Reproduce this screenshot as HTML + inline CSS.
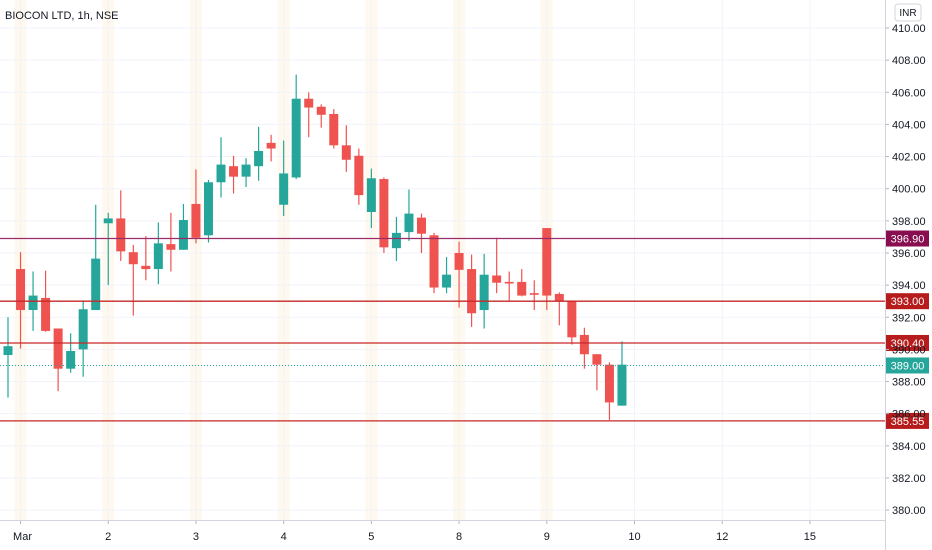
<!DOCTYPE html>
<html><head><meta charset="utf-8"><style>
body{margin:0;background:#fff;font-family:"Liberation Sans",sans-serif;}
svg{display:block}
text{font-family:"Liberation Sans",sans-serif;}
</style></head><body>
<svg id="chart" width="932" height="550" xmlns="http://www.w3.org/2000/svg">
<rect width="932" height="550" fill="#fff"/>
<g id="bands"></g>
<g id="grid"></g>
<g id="candles"></g>
<g id="levels"></g>
<g id="axis"></g>
<text x="5" y="19" font-size="11" fill="#131722">BIOCON LTD, 1h, NSE</text>
</svg>
<script>
const opens  = [389.65,395.0,392.45,393.2,391.3,388.8,390.0,392.45,397.85,398.15,396.05,395.2,395.0,396.55,396.2,399.05,397.1,400.4,401.4,400.75,401.4,402.85,399.0,400.7,405.6,405.1,404.65,402.7,402.05,398.55,400.6,396.3,397.3,398.2,397.1,393.85,396.0,395.0,392.45,394.6,394.2,394.2,393.5,397.55,393.45,393.0,390.9,389.7,389.05,386.5];
const closes = [390.2,392.45,393.35,391.15,388.8,389.9,392.5,395.65,398.15,396.1,395.3,395.0,396.6,396.2,398.05,396.95,400.4,401.5,400.75,401.5,402.35,402.5,400.95,405.6,405.05,404.6,402.7,401.8,399.6,400.65,396.35,397.25,398.45,397.2,393.85,394.65,394.95,392.25,394.65,394.15,394.1,393.35,393.4,393.35,393.0,390.75,389.7,389.05,386.7,389.05];
const highs  = [392.0,396.05,394.85,394.9,391.3,391.0,393.05,399.0,398.5,399.9,396.5,397.05,397.9,398.5,399.05,401.2,400.55,403.2,402.05,401.9,403.85,403.35,403.0,407.1,406.0,405.25,404.95,403.95,402.5,401.25,400.7,398.25,399.95,398.45,397.25,395.75,396.7,395.9,395.95,396.95,394.85,395.0,394.3,397.55,393.55,393.05,391.35,389.7,389.2,390.5];
const lows   = [387.0,390.05,391.15,391.1,387.4,388.55,388.3,392.45,394.0,395.5,392.1,394.3,394.05,394.85,396.2,396.6,396.65,399.45,399.7,400.1,400.5,401.7,398.3,400.6,403.2,403.8,402.5,401.05,399.0,397.55,396.0,395.5,396.75,396.0,393.5,393.5,392.6,391.4,391.3,393.5,393.0,393.3,392.45,392.45,391.5,390.3,388.8,387.45,385.6,386.5];
const priceTicks = [410,408,406,404,402,400,398,396,394,392,390,388,386,384,382,380];
const dateLabels = ["Mar","2","3","4","5","8","9","10","12","15"];
const dateIndex  = [1,8,15,22,29,36,43,50,57,64];
const bandIndex  = [1,8,15,22,29,36,43];
const levelPrices = [396.9,393.0,390.4,385.55];
const levelNames = ["level-396-90","level-393-00","level-390-40","level-385-55"];
const levelColors = ["#9b2c6a","#c62828","#c62828","#c62828"];
const lastPrice = 389.00;

const NS="http://www.w3.org/2000/svg";
function y(p){return 28+(410-p)*16.07;}
function x(i){return 8+12.53*i;}
function mk(tag,attrs,parent){const e=document.createElementNS(NS,tag);for(const k in attrs)e.setAttribute(k,attrs[k]);document.getElementById(parent).appendChild(e);return e;}

bandIndex.forEach(i=>{
  const b=mk('rect',{x:x(i)-6,y:0,width:12,height:520,fill:'#fff5e8',opacity:0.75},'bands');
  
  
});
priceTicks.forEach(p=>{
  const l=mk('line',{x1:0,x2:885,y1:y(p),y2:y(p),stroke:'#f0f3fa','stroke-width':1},'grid');
  
  
  const t=mk('text',{x:892,y:y(p)+4,'font-size':11,fill:'#131722'},'axis');
  t.textContent=p.toFixed(2);
  
  
  mk('line',{x1:885,x2:889,y1:y(p),y2:y(p),stroke:'#b2b5be'},'axis');
});
dateIndex.forEach((i,k)=>{
  const g=mk('line',{x1:x(i),x2:x(i),y1:0,y2:520,stroke:'#f0f3fa'},'grid');
  
  
  const t=mk('text',{x:x(i)+(k==0?2:0),y:540,'font-size':11,fill:'#131722','text-anchor':'middle'},'axis');
  t.textContent=dateLabels[k];
  
  
  mk('line',{x1:x(i),x2:x(i),y1:520,y2:524,stroke:'#b2b5be'},'axis');
});
mk('line',{x1:0,x2:885,y1:520.5,y2:520.5,stroke:'#d1d4dc'},'axis');
mk('line',{x1:885.5,x2:885.5,y1:0,y2:550,stroke:'#d1d4dc'},'axis');
const inr=mk('rect',{x:895,y:4,width:26,height:17,rx:3,fill:'#fff',stroke:'#d1d4dc'},'axis');


const inrT=mk('text',{x:908,y:16,'font-size':10,fill:'#131722','text-anchor':'middle'},'axis');
inrT.textContent='INR';

opens.forEach((o,i)=>{
  const c=closes[i],up=c>=o,col=up?'#26a69a':'#ef5350';
  const w=mk('line',{x1:x(i),x2:x(i),y1:y(highs[i]),y2:y(lows[i]),stroke:col,'stroke-width':1.2},'candles');
  
  
  const top=y(Math.max(o,c)),h=Math.max(1.5,Math.abs(y(o)-y(c)));
  const r=mk('rect',{x:x(i)-4.5,y:top,width:9,height:h,fill:col},'candles');
  
  
});

levelPrices.forEach((p,k)=>{
  const l=mk('line',{x1:0,x2:885,y1:y(p),y2:y(p),stroke:levelColors[k],'stroke-width':1.3},'levels');
  
  
});
const lp=mk('line',{x1:0,x2:885,y1:y(lastPrice),y2:y(lastPrice),stroke:'#26a69a','stroke-dasharray':'1 2'},'levels');


function tag(p,col,name){
  const r=mk('rect',{x:886,y:y(p)-8,width:43,height:16,fill:col},'levels');
  
  
  const t=mk('text',{x:907.5,y:y(p)+4,'font-size':11,fill:'#fff','text-anchor':'middle'},'levels');
  t.textContent=p.toFixed(2);
}
levelPrices.forEach((p,k)=>tag(p,k==0?'#880e4f':'#b71c1c',levelNames[k]+'-label'));
tag(lastPrice,'#26a69a','last-price-label');
</script>
</body></html>
